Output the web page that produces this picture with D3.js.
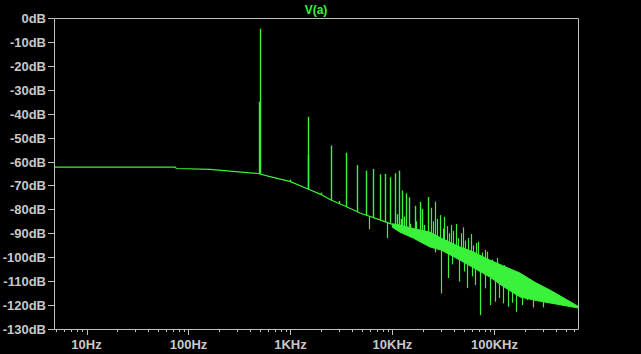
<!DOCTYPE html>
<html>
<head>
<meta charset="utf-8">
<script src="https://cdn.jsdelivr.net/npm/d3@7"></script>
<style>
  body { margin: 0; background: #000; }
  svg { display: block; }
  .lbl { font-family: "Liberation Sans", Arial, sans-serif; font-weight: bold; font-size: 13px; fill: #c8c8c8; }
</style>
</head>
<body>
<div id="chart"></div>
<script>
// trace name
const traceName = "V(a)";

// noise floor of the spectrum (Hz, dB)
const floorFreq = [4.8, 74, 76, 163, 255, 480, 630, 1000, 1486, 1950, 2500, 3420, 4800, 7540, 11800, 23300, 45900, 90300, 178000, 350000, 660000];
const floorDb = [-62.3, -62.3, -62.9, -63.3, -64.0, -65.0, -66.3, -68.4, -71.5, -73.6, -76.1, -78.6, -81.5, -84.4, -87.4, -92.6, -98.5, -104.8, -111.6, -116.4, -120.8];

// dense noise band at high frequency (upper / lower edges)
const bandFreq = [10000, 11800, 16000, 23300, 30000, 45900, 60000, 90300, 120000, 178000, 250000, 350000, 500000, 660000];
const bandHi = [-86.0, -86.5, -88.0, -89.5, -92.0, -95.7, -97.5, -101.2, -103.5, -106.6, -110.5, -113.7, -117.5, -120.5];
const bandLo = [-87.5, -89.5, -92.0, -95.7, -97.0, -101.2, -104.0, -108.3, -112.0, -116.6, -118.0, -119.1, -120.3, -121.2];

// odd harmonics of the 500 Hz fundamental
const harmFreq = [500, 1500, 2500, 3500, 4500, 5500, 6500, 7500, 8500, 9500, 10500, 11500, 12500, 13500, 14500, 16500, 18500, 19500, 22500];
const harmDb = [-4.5, -41.3, -53.3, -56.3, -61.5, -63.8, -63.1, -65.3, -65.2, -66.6, -64.9, -63.8, -72.1, -73.3, -75.0, -78.5, -76.9, -79.8, -74.8];

// leakage bins and small even harmonics
const sideFreq = [495, 1490, 1000, 2000, 3000, 4000, 11000, 12000, 13000, 15000, 17000, 20500];
const sideDb = [-35.0, -57.3, -67.6, -73.0, -76.5, -80.0, -82.0, -84.0, -83.0, -86.0, -85.0, -86.5];

// upward spikes inside the noise band
const noiseUpFreq = [23700, 26100, 29200, 32200, 37200, 42000, 48800, 58900, 69400, 83900, 105000, 124000, 153000, 178000, 223000, 279000, 350000, 439000,
  25000, 27500, 31000, 34000, 36000, 39500, 44000, 46500, 52000, 55000, 62000, 66000, 75000, 80000, 95000, 115000, 135000, 145000, 165000, 195000, 210000, 250000, 300000, 320000, 380000, 410000, 480000, 520000];
const noiseUpDb = [-79.3, -76.8, -82.4, -83.1, -86.5, -86.1, -87.5, -90.3, -93.5, -97.7, -100.3, -103.3, -106.1, -107.4, -110.2, -112.9, -115.0, -117.1,
  -85.0, -84.0, -88.0, -87.0, -90.0, -89.0, -92.0, -90.0, -93.0, -92.0, -95.0, -94.0, -98.0, -97.0, -101.0, -104.0, -105.0, -107.0, -109.0, -110.0, -111.0, -113.0, -114.5, -115.0, -116.5, -117.0, -118.5, -119.0];

// downward spikes
const dipFreq = [5930, 8830, 29900, 34800, 44900, 54100, 64400, 72100, 90300, 101000, 122000, 136000, 163000, 185000, 207000,
  26000, 38000, 50000, 60000, 80000, 110000, 150000, 240000, 300000];
const dipDb = [-88.3, -92.0, -115.1, -108.7, -110.2, -112.9, -111.6, -124.2, -120.0, -118.6, -119.3, -120.7, -122.8, -120.0, -117.9,
  -98.0, -103.0, -106.0, -108.0, -113.0, -117.0, -119.0, -121.0, -121.0];

// axis ticks
const yTicks = [0, -10, -20, -30, -40, -50, -60, -70, -80, -90, -100, -110, -120, -130];
const xTickVals = [10, 100, 1000, 10000, 100000];
const xTickLabels = ["10Hz", "100Hz", "1KHz", "10KHz", "100KHz"];

const width = 641, height = 354;
const margins = [18, 63, 25, 54]; // top, right, bottom, left
const green = "#3af23a";
const gray = "#c0c0c0";

const svg = d3.select("#chart").append("svg")
  .attr("width", width).attr("height", height)
  .style("background", "#000");

const [mt, mr, mb, ml] = margins;

const x = d3.scaleLog().domain([4.8, 660000]).range([ml, width - mr]);
const y = d3.scaleLinear().domain([-130, 0]).range([height - mb, mt]);
const floorAt = d3.scaleLog().domain(floorFreq).range(floorDb);

// title
svg.append("text")
  .attr("x", (ml + width - mr) / 2).attr("y", 14)
  .attr("text-anchor", "middle")
  .attr("class", "lbl")
  .style("fill", green)
  .style("font-size", "12px")
  .text(traceName);

// y axis labels + ticks
yTicks.forEach(v => {
  const yy = Math.round(y(v)) + 0.5;
  svg.append("line")
    .attr("x1", ml - 6).attr("x2", ml).attr("y1", yy).attr("y2", yy)
    .attr("stroke", gray);
  svg.append("text")
    .attr("class", "lbl")
    .attr("x", ml - 8).attr("y", yy + 4.5)
    .attr("text-anchor", "end")
    .text(v + "dB");
});

// x axis ticks (log minor)
const minor = [];
for (let dec = 1; dec <= 100000; dec *= 10) {
  for (let m = 1; m <= 9; m++) {
    const f = dec * m;
    if (f >= 4.8 && f <= 660000) minor.push(f);
  }
}
minor.forEach(f => {
  const xx = Math.round(x(f)) + 0.5;
  const major = xTickVals.includes(f);
  svg.append("line")
    .attr("x1", xx).attr("x2", xx)
    .attr("y1", height - mb).attr("y2", height - mb + (major ? 6 : 3))
    .attr("stroke", gray);
});
xTickVals.forEach((f, i) => {
  svg.append("text")
    .attr("class", "lbl")
    .attr("x", x(f)).attr("y", height - 5)
    .attr("text-anchor", "middle")
    .text(xTickLabels[i]);
});

// noise band
const band = d3.area()
  .x((d, i) => x(bandFreq[i]))
  .y0((d, i) => y(bandLo[i]))
  .y1((d, i) => y(bandHi[i]));
svg.append("path")
  .datum(bandFreq)
  .attr("d", band)
  .attr("fill", green)
  .attr("stroke", green)
  .attr("stroke-width", 1);

// floor trace
const line = d3.line()
  .x((d, i) => x(floorFreq[i]))
  .y((d, i) => y(floorDb[i]));
svg.append("path")
  .datum(floorFreq)
  .attr("d", line)
  .attr("fill", "none")
  .attr("stroke", green)
  .attr("stroke-width", 1.2);

function spikes(freqs, dbs, w) {
  svg.append("g").selectAll("line")
    .data(freqs)
    .join("line")
    .attr("x1", d => Math.round(x(d)) + 0.5)
    .attr("x2", d => Math.round(x(d)) + 0.5)
    .attr("y1", d => y(floorAt(d)))
    .attr("y2", (d, i) => y(dbs[i]))
    .attr("stroke", green)
    .attr("stroke-width", w);
}
spikes(harmFreq, harmDb, 1.4);
spikes(sideFreq, sideDb, 1.4);
spikes(noiseUpFreq, noiseUpDb, 1.2);
spikes(dipFreq, dipDb, 1.2);

// frame
svg.append("path")
  .attr("d", `M${ml + 0.5},${height - mb + 0.5} V${mt + 0.5} H${width - mr + 0.5} V${height - mb + 0.5} H${ml + 0.5}`)
  .attr("fill", "none")
  .attr("stroke", gray)
  .attr("stroke-width", 1);
</script>
</body>
</html>
